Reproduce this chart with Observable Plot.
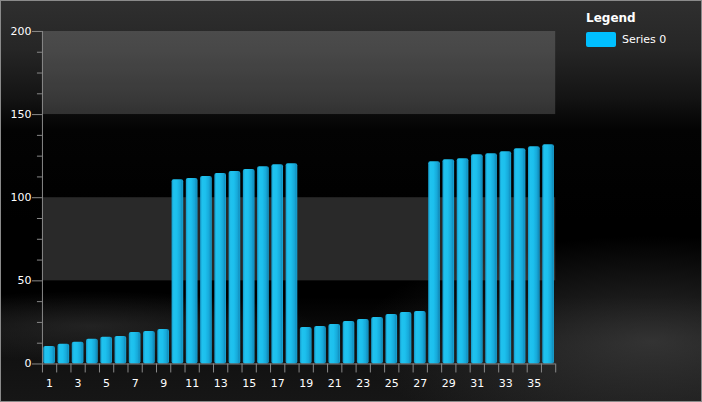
<!DOCTYPE html>
<html>
<head>
<meta charset="utf-8">
<script src="https://cdn.jsdelivr.net/npm/d3@7"></script>
<script src="https://cdn.jsdelivr.net/npm/@observablehq/plot@0.6"></script>
<style>
  body { margin: 0; background: #000; }
  #wrap {
    position: relative; width: 700px; height: 400px; overflow: hidden;
    border: 1px solid #8a8a8a;
    background:
      radial-gradient(ellipse 420px 150px at 650px 340px, rgba(75,75,75,0.6), rgba(0,0,0,0) 70%),
      radial-gradient(ellipse 320px 50px at 90px 325px, rgba(55,55,55,0.55), rgba(0,0,0,0) 70%),
      linear-gradient(to bottom, #2f2f2f 0%, #262626 12%, #141414 24%, #030303 32%, #000 55%, #000 74%, #101010 86%, #161616 100%);
    font-family: "DejaVu Sans", sans-serif;
  }
  #chart_1 { position: absolute; left: -1px; top: -1px; }
  .legend { position: absolute; left: 585px; top: 10px; color: #fff; }
  .legend .title { font-weight: bold; font-size: 12px; }
  .legend .item { display: flex; align-items: center; margin-top: 7px; font-size: 11px; }
  .legend .sw { width: 30px; height: 15px; background: #00bfff; border-radius: 2px; margin-right: 6px; }
</style>
</head>
<body>
<div id="wrap">
  <div id="chart_1"></div>
  <div class="legend">
    <div class="title">Legend</div>
    <div class="item"><span class="sw"></span><span>Series 0</span></div>
  </div>
</div>
<script>
const categories = [1,2,3,4,5,6,7,8,9,10,11,12,13,14,15,16,17,18,19,20,21,22,23,24,25,26,27,28,29,30,31,32,33,34,35,36];
const values = [10.5, 11.8, 13, 14.8, 16, 16.6, 19, 19.6, 20.8,
  110.8, 111.5, 112.7, 114.5, 115.7, 116.9, 118.7, 119.9, 120.5,
  22, 22.6, 23.8, 25.6, 26.8, 28, 29.8, 31, 31.6,
  121.7, 122.9, 123.5, 125.9, 126.5, 127.7, 129.5, 130.7, 131.9];
const bands = [[150, 200], [50, 100]];
const majorTicks = [0, 50, 100, 150, 200];
const minorTicks = [12.5, 25, 37.5, 62.5, 75, 87.5, 112.5, 125, 137.5, 162.5, 175, 187.5];
const labelTicks = [1,3,5,7,9,11,13,15,17,19,21,23,25,27,29,31,33,35];
const boundaries = [0.5,1.5,2.5,3.5,4.5,5.5,6.5,7.5,8.5,9.5,10.5,11.5,12.5,13.5,14.5,15.5,16.5,17.5,18.5,19.5,20.5,21.5,22.5,23.5,24.5,25.5,26.5,27.5,28.5,29.5,30.5,31.5,32.5,33.5,34.5,35.5,36.5];

const data = categories.map((c, i) => ({cat: c, value: values[i]}));

const chart_1 = Plot.plot({
  width: 702,
  height: 402,
  marginLeft: 42,
  marginRight: 146,
  marginTop: 31,
  marginBottom: 38,
  style: {background: "transparent", color: "#fff", fontFamily: "DejaVu Sans, sans-serif", fontSize: "11px"},
  x: {type: "linear", domain: [0.5, 36.5]},
  y: {domain: [0, 200]},
  marks: [
    Plot.rect(bands, {x1: 0.5, x2: 36.5, y1: d => d[0], y2: d => d[1], fill: "#fff", fillOpacity: 0.16}),
    Plot.rectY(data, {x1: d => d.cat - 0.5, x2: d => d.cat + 0.5, y: "value", fill: "url(#barGrad)", insetLeft: 1.3, insetRight: 1.3, rx: 2}),
    Plot.axisY({ticks: majorTicks, tickSize: 10, tickPadding: 1, stroke: "#8a8a8a", label: null}),
    Plot.axisY({ticks: minorTicks, tickSize: 5, text: null, stroke: "#8a8a8a", label: null}),
    Plot.axisX({ticks: boundaries, tickSize: 9, text: null, stroke: "#8a8a8a", label: null}),
    Plot.axisX({ticks: labelTicks, tickSize: 0, tickPadding: 15, label: null, tickFormat: d => d}),
    Plot.ruleY([0], {stroke: "#8a8a8a"}),
    Plot.ruleX([0.5], {stroke: "#8a8a8a"})
  ]
});

const defs = d3.select(chart_1).insert("defs", ":first-child");
const g = defs.append("linearGradient").attr("id", "barGrad").attr("x1", "0").attr("x2", "1").attr("y1", "0").attr("y2", "0");
[["0%", "#1598c8"], ["18%", "#20c2ee"], ["45%", "#1cc0ee"], ["75%", "#17a9d9"], ["90%", "#1290c0"], ["100%", "#1aaedd"]]
  .forEach(([o, c]) => g.append("stop").attr("offset", o).attr("stop-color", c));

d3.select('#chart_1').append(() => chart_1);
</script>
</body>
</html>
